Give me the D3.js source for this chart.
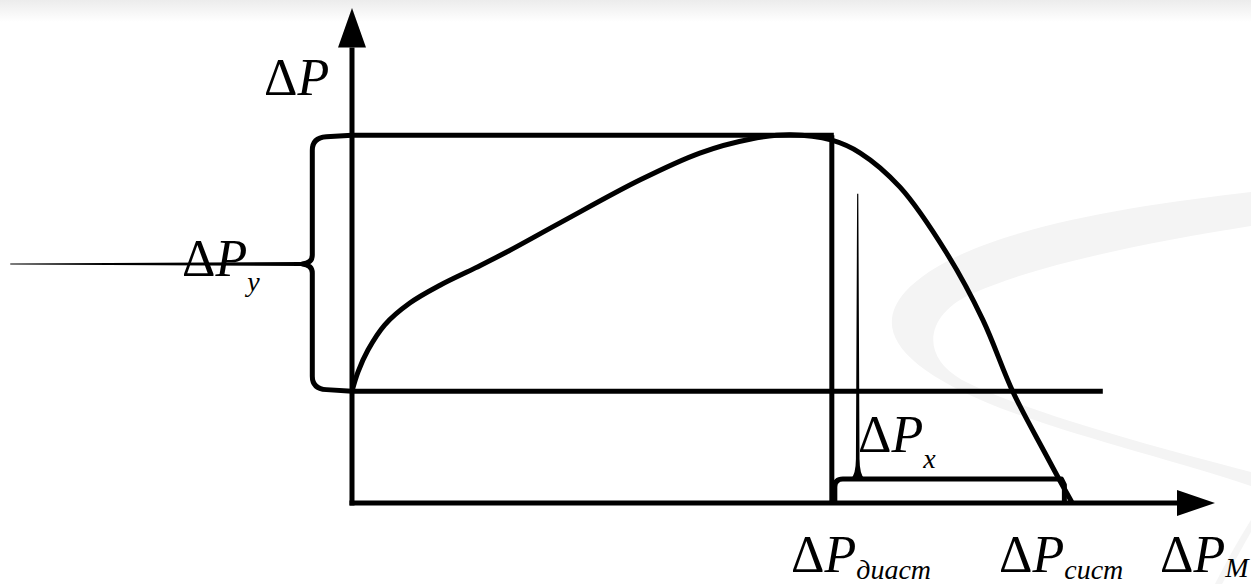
<!DOCTYPE html>
<html><head><meta charset="utf-8">
<script src="https://cdn.jsdelivr.net/npm/d3@7"></script>
<style>
html,body{margin:0;padding:0;background:#fff;}
svg{display:block;}
text{font-family:"Liberation Serif","Times New Roman",serif;fill:#000;}
</style></head>
<body>
<svg id="chart" width="1251" height="584"></svg>
<script>
// ---- data (abstract units: x 0..100 along ΔP_M axis, y 0..100 along ΔP axis)
const curveX = [0, 0.7, 1.85, 3.8, 6.7, 10.2, 14.3, 17.7, 24.1, 33.4, 40.3, 46.1, 50.8, 55.6, 58.9, 63.5, 68.9, 73.1, 76.6, 80.3, 82.0, 83.4];
const curveY = [22.6, 26.5, 30.9, 36.0, 40.4, 44.0, 47.5, 50.5, 56.6, 65.3, 70.7, 73.5, 74.4, 73.3, 70.7, 63.8, 50.5, 37.0, 22.4, 10.1, 4.6, 0.2];
const levelNames = ["upper", "lower", "bracketX", "braceMid", "spikeTop"];
const levelValues = [74.3, 22.6, 4.85, 48.3, 62.5];
const xMarkNames = ["diast", "sist", "lowerLineEnd", "braceX", "tailStart", "spikeX"];
const xMarkValues = [55.6, 82.2, 87.0, -4.6, -39.6, 58.6];
const subscripts = ["", "y", "x", "диаст", "сист", "M"];

const L = Object.fromEntries(levelNames.map((n,i)=>[n, levelValues[i]]));
const XM = Object.fromEntries(xMarkNames.map((n,i)=>[n, xMarkValues[i]]));

const svg = d3.select("#chart");
const x = d3.scaleLinear().domain([0, 100]).range([352, 1215]);
const y = d3.scaleLinear().domain([0, 100]).range([503, 8]);

// ---- background decoration
const defs = svg.append("defs");
const g1 = defs.append("linearGradient").attr("id","topband").attr("x1",0).attr("y1",0).attr("x2",0).attr("y2",1);
g1.append("stop").attr("offset","0%").attr("stop-color","#ececec");
g1.append("stop").attr("offset","100%").attr("stop-color","#ffffff");
svg.append("rect").attr("x",0).attr("y",0).attr("width",1251).attr("height",22).attr("fill","url(#topband)");
svg.append("path")
  .attr("d","M1251,192 C1120,207 960,232 905,292 C872,330 900,368 1000,408 C1080,438 1180,462 1251,486 L1251,472 C1150,446 1020,410 962,380 C918,355 926,312 976,292 C1040,264 1150,242 1251,226 Z")
  .attr("fill","#f4f4f4");
svg.append("path")
  .attr("d","M1251,520 C1235,545 1225,565 1215,584 L1222,584 C1232,566 1242,548 1251,532 Z")
  .attr("fill","#f5f5f5");

const K = "#000";
const SW = 5;

// ---- rectangle lines
svg.append("line").attr("x1",x(0)).attr("x2",x(XM.diast)+2).attr("y1",y(L.upper)).attr("y2",y(L.upper)).attr("stroke",K).attr("stroke-width",SW);
svg.append("line").attr("x1",x(XM.diast)).attr("x2",x(XM.diast)).attr("y1",y(L.upper)).attr("y2",y(0)).attr("stroke",K).attr("stroke-width",SW);
svg.append("line").attr("x1",x(0)).attr("x2",x(XM.lowerLineEnd)).attr("y1",y(L.lower)).attr("y2",y(L.lower)).attr("stroke",K).attr("stroke-width",SW);

// ---- left brace ΔP_y
const bx = x(XM.braceX), yTop = y(L.upper), yBot = y(L.lower), yMid = y(L.braceMid), ax = x(0);
svg.append("path")
  .attr("d",`M${ax},${yTop} L${bx+14},${yTop+1.5} Q${bx},${yTop+2.5} ${bx},${yTop+15} L${bx},${yMid-9} Q${bx},${yMid-1} ${bx-10},${yMid} Q${bx},${yMid+1} ${bx},${yMid+9} L${bx},${yBot-15} Q${bx},${yBot-2.5} ${bx+14},${yBot-1.5} L${ax},${yBot}`)
  .attr("fill","none").attr("stroke",K).attr("stroke-width",SW).attr("stroke-linejoin","round");
// tapered tail
const tx = x(XM.tailStart);
svg.append("path")
  .attr("d",`M${tx},${yMid-0.5} L${bx-12},${yMid-2} L${bx-6},${yMid-2.2} L${bx-6},${yMid+2.2} L${bx-12},${yMid+2} L${tx},${yMid+0.5} Z`)
  .attr("fill",K);

// ---- ΔP_x bracket
const yb = y(L.bracketX), dx0 = x(XM.diast)+3, sx = x(XM.spikeX), ex = x(XM.sist);
svg.append("path")
  .attr("d",`M${dx0},${y(0)} L${dx0},${yb+8} Q${dx0},${yb} ${dx0+8},${yb} L${ex},${yb} L${ex+3},${yb+6} L${ex+3},${y(0)}`)
  .attr("fill","none").attr("stroke",K).attr("stroke-width",SW).attr("stroke-linejoin","round");
const spikeTopY = y(L.spikeTop);
svg.append("path")
  .attr("d",`M${sx-0.6},${spikeTopY} L${sx+0.6},${spikeTopY} L${sx+1.8},${yb-20} Q${sx+2},${yb-4} ${sx+7},${yb} L${sx-7},${yb} Q${sx-2},${yb-4} ${sx-1.8},${yb-20} Z`)
  .attr("fill",K);

// ---- curve
const pts = curveX.map((v,i)=>[x(v), y(curveY[i])]);
svg.append("path").datum(pts)
  .attr("d", d3.line().curve(d3.curveCatmullRom.alpha(0.5)))
  .attr("fill","none").attr("stroke",K).attr("stroke-width",SW).attr("stroke-linecap","butt");

// ---- axes
svg.append("line").attr("x1",x(0)).attr("x2",x(0)).attr("y1",y(0)+2.5).attr("y2",y(92)).attr("stroke",K).attr("stroke-width",SW);
svg.append("line").attr("x1",x(0)-2.5).attr("x2",x(96)).attr("y1",y(0)).attr("y2",y(0)).attr("stroke",K).attr("stroke-width",SW);
svg.append("path").attr("d",`M${x(0)-14},${y(92)} L${x(0)+14},${y(92)} L${x(0)},${y(100)} Z`).attr("fill",K);
svg.append("path").attr("d",`M${x(95.6)},${y(0)-13} L${x(95.6)},${y(0)+13} L${x(100)},${y(0)} Z`).attr("fill",K);

// ---- labels
function label(i, px, py, subDy) {
  const t = svg.append("text").attr("x",px).attr("y",py).attr("font-size",52);
  t.append("tspan").text("Δ");
  t.append("tspan").attr("font-style","italic").text("P");
  if (subscripts[i]) t.append("tspan").attr("font-style","italic").attr("font-size",28).attr("dy",subDy).text(subscripts[i]);
}
label(0, 264, 95);
label(1, 182, 276, 15);
label(2, 858, 452, 16);
label(3, 791, 572, 7);
label(4, 999, 572, 7);
label(5, 1160, 572, 5);
</script>
</body></html>
